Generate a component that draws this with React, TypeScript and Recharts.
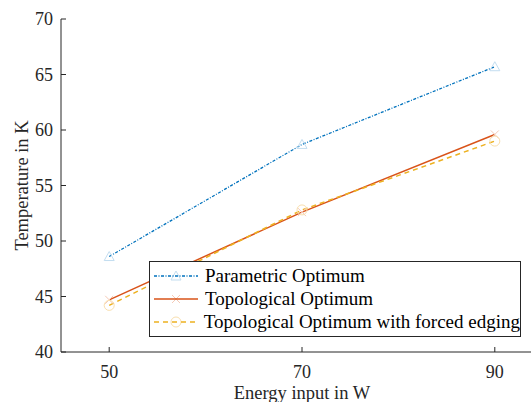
import React from "react"
import { LineChart, Line, XAxis, YAxis, Legend } from "recharts"

const energy = [50, 70, 90]
const parametric = [48.6, 58.7, 65.7]
const topological = [44.7, 52.6, 59.6]
const forcedEdging = [44.2, 52.8, 59.0]

const xTicks = [50, 70, 90]
const yTicks = [40, 45, 50, 55, 60, 65, 70]

const data = energy.map((e, i) => ({
  energy: e,
  parametric: parametric[i],
  topological: topological[i],
  forcedEdging: forcedEdging[i],
}))

const AXIS = "#262626"
const FONT = "'Liberation Serif', 'Times New Roman', serif"

const series = [
  { key: "parametric", name: "Parametric Optimum", color: "#0072BD", dash: "3 1.5 1 1.5", marker: "triangle", markerColor: "#c3ddf0", width: 1.3 },
  { key: "topological", name: "Topological Optimum", color: "#D95319", dash: undefined, marker: "cross", markerColor: "#f5cab6", width: 1.5 },
  { key: "forcedEdging", name: "Topological Optimum with forced edging", color: "#EDB120", dash: "5 4", marker: "circle", markerColor: "#f9dfae", width: 1.5 },
]

function Marker({ kind, cx, cy, color }: { kind: string; cx: number; cy: number; color: string }) {
  if (kind === "triangle") {
    return <polygon points={`${cx},${cy - 5} ${cx + 5},${cy + 4} ${cx - 5},${cy + 4}`} fill="none" stroke={color} strokeWidth={1} />
  }
  if (kind === "cross") {
    return (
      <g stroke={color} strokeWidth={1}>
        <line x1={cx - 4} y1={cy - 4} x2={cx + 4} y2={cy + 4} />
        <line x1={cx - 4} y1={cy + 4} x2={cx + 4} y2={cy - 4} />
      </g>
    )
  }
  return <circle cx={cx} cy={cy} r={5} fill="none" stroke={color} strokeWidth={1} />
}

const LegendBox = () => (
  <div
    style={{
      border: `1px solid ${AXIS}`,
      background: "#fff",
      width: 370,
      height: 72,
      boxSizing: "content-box",
      fontFamily: FONT,
      fontSize: 19,
      color: "#000",
      paddingTop: 2,
    }}
  >
    {series.map((s) => (
      <div key={s.key} style={{ display: "flex", alignItems: "center", height: 23 }}>
        <svg width={48} height={14} style={{ marginLeft: 3, marginRight: 4 }}>
          <Marker kind={s.marker} cx={23} cy={7} color={s.markerColor} />
          <line x1={1} y1={7} x2={45} y2={7} stroke={s.color} strokeWidth={s.width} strokeDasharray={s.dash} />
        </svg>
        <span style={{ lineHeight: "23px", whiteSpace: "nowrap" }}>{s.name}</span>
      </div>
    ))}
  </div>
)

export default function App() {
  return (
    <div style={{ position: "absolute", left: 0, top: 0, width: 531, height: 402, overflow: "hidden", background: "#fff" }}>
      <LineChart width={560} height={402} data={data} margin={{ top: 19, right: 0, bottom: 0, left: 0 }}>
        <XAxis
          xAxisId="bottom"
          dataKey="energy"
          type="number"
          domain={[45, 95]}
          ticks={xTicks}
          height={50}
          stroke={AXIS}
          tickSize={-5}
          tickMargin={18}
          tick={{ fill: "#262626", fontSize: 18, fontFamily: FONT }}
          label={({ viewBox }: any) => (
            <text x={viewBox.x + viewBox.width / 2} y={viewBox.y + 47} textAnchor="middle" fill="#262626" fontSize={18.5} fontFamily={FONT}>
              Energy input in W
            </text>
          )}
        />
        <XAxis
          xAxisId="top"
          orientation="top"
          dataKey="energy"
          type="number"
          domain={[45, 95]}
          ticks={xTicks}
          height={0}
          stroke={AXIS}
          tickSize={-5}
          tick={() => <g />}
        />
        <YAxis
          yAxisId="left"
          type="number"
          domain={[40, 70]}
          ticks={yTicks}
          width={61}
          stroke={AXIS}
          tickSize={-5}
          tickMargin={13}
          tick={{ fill: "#262626", fontSize: 18, fontFamily: FONT }}
          label={({ viewBox }: any) => {
            const cy = viewBox.y + viewBox.height / 2
            return (
              <text x={28} y={cy} transform={`rotate(-90, 28, ${cy})`} textAnchor="middle" fill="#262626" fontSize={18.5} fontFamily={FONT}>
                Temperature in K
              </text>
            )
          }}
        />
        <YAxis
          yAxisId="right"
          orientation="right"
          type="number"
          domain={[40, 70]}
          ticks={yTicks}
          width={17}
          stroke={AXIS}
          tickSize={-5}
          tick={() => <g />}
        />
        {series.map((s) => (
          <Line
            key={s.key}
            xAxisId="bottom"
            yAxisId="left"
            type="linear"
            dataKey={s.key}
            name={s.name}
            stroke={s.color}
            strokeWidth={s.width}
            strokeDasharray={s.dash}
            isAnimationActive={false}
            dot={(p: any) => <Marker key={`${s.key}-${p.index}`} kind={s.marker} cx={p.cx} cy={p.cy} color={s.markerColor} />}
          />
        ))}
        <Legend
          layout="vertical"
          align="center"
          verticalAlign="middle"
          content={() => <LegendBox />}
          wrapperStyle={{ position: "absolute", left: 149, top: 261, width: 372, height: 74, margin: 0 }}
        />
      </LineChart>
    </div>
  )
}
